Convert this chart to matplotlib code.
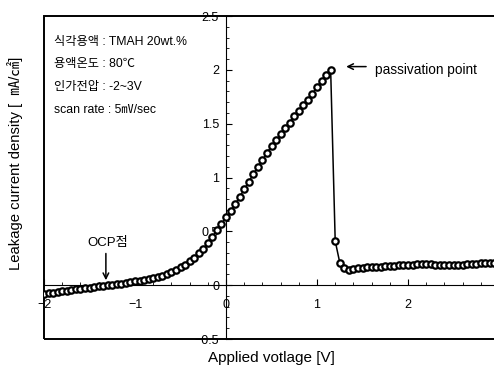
import numpy as np
import matplotlib.pyplot as plt
from matplotlib.patches import Rectangle
from matplotlib.ticker import MultipleLocator

plt.rcParams['font.family'] = ['Liberation Sans', 'Noto Sans CJK KR', 'DejaVu Sans']

# applied voltage scan (V)
volt = [-2.00, -1.95, -1.90, -1.85, -1.80, -1.75, -1.70, -1.65, -1.60, -1.55,
        -1.50, -1.45, -1.40, -1.35, -1.30, -1.25, -1.20, -1.15, -1.10, -1.05,
        -1.00, -0.95, -0.90, -0.85, -0.80, -0.75, -0.70, -0.65, -0.60, -0.55,
        -0.50, -0.45, -0.40, -0.35, -0.30, -0.25, -0.20, -0.15, -0.10, -0.05,
        0.00, 0.05, 0.10, 0.15, 0.20, 0.25, 0.30, 0.35, 0.40, 0.45,
        0.50, 0.55, 0.60, 0.65, 0.70, 0.75, 0.80, 0.85, 0.90, 0.95,
        1.00, 1.05, 1.10, 1.15, 1.20, 1.25, 1.30, 1.35, 1.40, 1.45,
        1.50, 1.55, 1.60, 1.65, 1.70, 1.75, 1.80, 1.85, 1.90, 1.95,
        2.00, 2.05, 2.10, 2.15, 2.20, 2.25, 2.30, 2.35, 2.40, 2.45,
        2.50, 2.55, 2.60, 2.65, 2.70, 2.75, 2.80, 2.85, 2.90, 2.95]

# leakage current density (mA/cm2)
current = [-0.08, -0.075, -0.07, -0.065, -0.055, -0.05, -0.045, -0.04, -0.035, -0.03,
           -0.025, -0.02, -0.01, -0.005, 0.00, 0.005, 0.01, 0.015, 0.02, 0.03,
           0.035, 0.04, 0.05, 0.055, 0.065, 0.075, 0.085, 0.10, 0.12, 0.14,
           0.165, 0.19, 0.22, 0.255, 0.295, 0.34, 0.39, 0.45, 0.51, 0.57,
           0.63, 0.69, 0.75, 0.82, 0.89, 0.96, 1.03, 1.10, 1.16, 1.23,
           1.29, 1.35, 1.40, 1.46, 1.51, 1.57, 1.62, 1.67, 1.72, 1.78,
           1.84, 1.90, 1.95, 2.00, 0.41, 0.21, 0.16, 0.14, 0.15, 0.155,
           0.16, 0.165, 0.165, 0.17, 0.17, 0.175, 0.175, 0.18, 0.185, 0.185,
           0.19, 0.19, 0.195, 0.195, 0.195, 0.195, 0.19, 0.19, 0.185, 0.185,
           0.185, 0.19, 0.19, 0.195, 0.20, 0.20, 0.205, 0.205, 0.21, 0.21]

conditions = ['식각용액 : TMAH 20wt.%', '용액온도 : 80℃', '인가전압 : -2~3V', 'scan rate : 5㎷/sec']

fig = plt.figure(figsize=(4.94, 3.71), dpi=100)
ax = fig.add_axes([44/494, 32/371, 450/494, 323/371])

ax.plot(volt, current, color='black', lw=1.1, marker='o', ms=4.6,
        mfc='white', mec='black', mew=1.6, zorder=3)

ax.set_xlim(-2, 2.945)
ax.set_ylim(-0.5, 2.5)

# axes crossing at the origin, with a box around the plot
ax.spines['left'].set_position(('data', 0))
ax.spines['bottom'].set_position(('data', 0))
ax.spines['top'].set_visible(False)
ax.spines['right'].set_visible(False)
ax.add_patch(Rectangle((0, 0), 1.2, 1, transform=ax.transAxes, fill=False,
                       lw=1.4, color='black', clip_on=False))

ax.xaxis.set_major_locator(MultipleLocator(1))
ax.xaxis.set_minor_locator(MultipleLocator(0.2))
ax.yaxis.set_major_locator(MultipleLocator(0.5))
ax.yaxis.set_minor_locator(MultipleLocator(0.1))
ax.tick_params(which='both', direction='in', labelsize=9)
ax.tick_params(which='major', length=4)
ax.tick_params(which='minor', length=2.5)
ax.tick_params(axis='x', pad=10)
ax.tick_params(axis='y', pad=5)
ax.xaxis.set_major_formatter(plt.FuncFormatter(lambda v, p: ('%g' % v).replace('-', '\u2212')))
ax.yaxis.set_major_formatter(plt.FuncFormatter(lambda v, p: ('%g' % v).replace('-', '\u2212')))

for i, txt in enumerate(conditions):
    ax.text(-1.89, 2.26 - i * 0.21, txt, fontsize=8.8, va='center', ha='left')

ax.annotate('', xy=(1.29, 2.03), xytext=(1.57, 2.03),
            arrowprops=dict(arrowstyle='->', color='black', lw=1.1))
ax.text(1.64, 2.0, 'passivation point', fontsize=9.8, va='center', ha='left')

ax.annotate('', xy=(-1.32, 0.02), xytext=(-1.32, 0.32),
            arrowprops=dict(arrowstyle='->', color='black', lw=1.1))
ax.text(-1.30, 0.39, 'OCP점', fontsize=9.5, va='center', ha='center')

fig.text(271/494, 1 - 358/371, 'Applied votlage [V]', fontsize=11, ha='center', va='center')
fig.text(15/494, 1 - 163/371, 'Leakage current density [  ㎃/㎠]', fontsize=10.7,
         rotation=90, ha='center', va='center')

fig.savefig('out.png', dpi=100)
